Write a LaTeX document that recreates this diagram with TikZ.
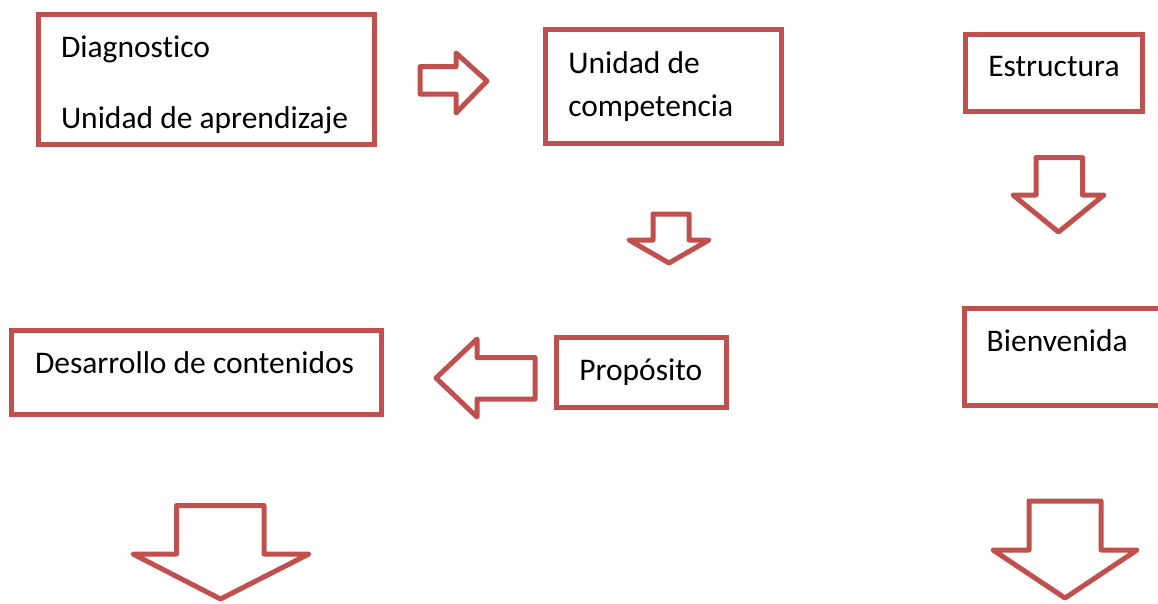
\documentclass[tikz,border=0pt]{standalone}
\usepackage{fontspec}
\setmainfont[Ligatures={NoCommon}]{Carlito}
\definecolor{accred}{HTML}{C0504D}
\begin{document}
\begin{tikzpicture}[x=1pt,y=-1pt,
  box/.style={draw=accred,line width=5pt,fill=white,inner sep=0pt,outer sep=0pt},
  lbl/.style={anchor=base west,inner sep=0pt,outer sep=0pt,font=\fontsize{31.5}{38}\selectfont,text=black},
  blockarrow/.style={draw=accred,line width=5pt,line join=round,fill=white}]
\useasboundingbox (0,0) rectangle (1158,603);
% boxes
\node[box,minimum width=336pt,minimum height=130pt] (diag) at (206,79.5) {};
\node[box,minimum width=235.5pt,minimum height=114.2pt] (comp) at (663.25,86.6) {};
\node[box,minimum width=177.5pt,minimum height=77pt] (estr) at (1053.75,72.5) {};
\node[box,minimum width=370pt,minimum height=84pt] (desa) at (196,372) {};
\node[box,minimum width=169.5pt,minimum height=70pt] (prop) at (641.25,372.5) {};
\node[box,minimum width=200.5pt,minimum height=97pt] (bien) at (1064.75,356.5) {};
% texts
\node[lbl] (t1) at (61,57) {Diagnostico};
\node[lbl] (t2) at (61,128) {Unidad de aprendizaje};
\node[lbl] (t3) at (568.3,73.3) {Unidad de};
\node[lbl] (t4) at (568.3,116.7) {competencia};
\node[lbl] (t5) at (988.3,76.7) {Estructura};
\node[lbl] (t6) at (35,373.3) {Desarrollo de contenidos};
\node[lbl] (t7) at (579.3,380) {Propósito};
\node[lbl] (t8) at (986.7,351) {Bienvenida};
% block arrows
\draw[blockarrow] (420,66.7) -- (456,66.7) -- (456,53) -- (487,81) -- (456,113) -- (456,94) -- (420,94) -- cycle;
\draw[blockarrow] (653,214) -- (689,214) -- (689,240) -- (709,240) -- (669,263) -- (629,240) -- (653,240) -- cycle;
\draw[blockarrow] (1036,157.5) -- (1082.5,157.5) -- (1082.5,195) -- (1104,195) -- (1058.5,232) -- (1013,195) -- (1036,195) -- cycle;
\draw[blockarrow] (535,357.5) -- (477,357.5) -- (477,339) -- (436,378) -- (477,417) -- (477,399) -- (535,399) -- cycle;
\draw[blockarrow] (176.5,505.5) -- (264,505.5) -- (264,554) -- (309,554) -- (220.5,599) -- (133,554) -- (176.5,554) -- cycle;
\draw[blockarrow] (1029,501) -- (1101,501) -- (1101,550) -- (1137,550) -- (1065,598) -- (993,550) -- (1029,550) -- cycle;
\end{tikzpicture}
\end{document}
